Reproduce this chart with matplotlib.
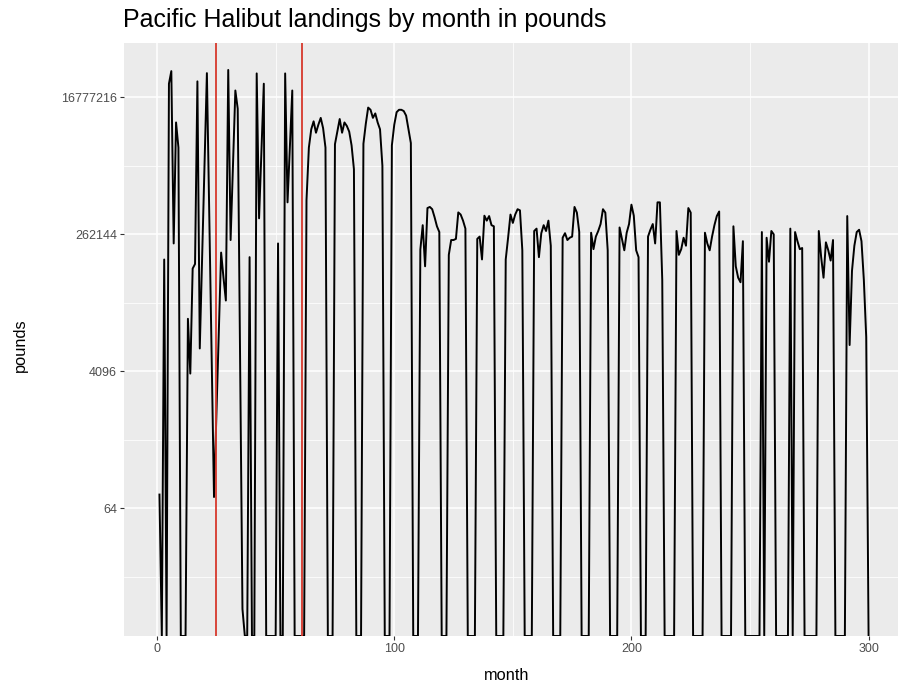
import matplotlib.pyplot as plt
import numpy as np
from matplotlib.ticker import FixedLocator, NullFormatter

title = 'Pacific Halibut landings by month in pounds'

# monthly landings, one row per 12 months (0 = no landings)
months = np.arange(1, 301)
pounds = [
    97, 0, 122000, 0, 25400000, 37200000, 198700, 7830000, 3650000, 0, 0, 0,
    20170, 3822, 92680, 106500, 27260000, 8192, 131072, 2097152, 35000000, 456400, 6208, 90,
    1098, 12417, 150600, 70240, 35120, 38550000, 220400, 2097152, 20660000, 11860000, 5793, 3,
    0, 0, 131072, 0, 0, 34700000, 425900, 3180000, 25400000, 0, 0, 0,
    0, 0, 198700, 0, 0, 34700000, 692000, 3650000, 20660000, 0, 0, 0,
    0, 0, 741000, 3650000, 6360000, 8100000, 5730000, 7300000, 8990000, 6580000, 3650000, 0,
    0, 0, 4050000, 5930000, 8690000, 5730000, 7830000, 7050000, 5930000, 3910000, 1890000, 0,
    0, 0, 4100000, 7500000, 12300000, 11500000, 9000000, 10300000, 7830000, 6360000, 2100000, 0,
    0, 0, 3910000, 7300000, 10700000, 11500000, 11500000, 11070000, 9640000, 6360000, 4190000, 0,
    0, 0, 164800, 346000, 99300, 582000, 602000, 562000, 440800, 334400, 281000, 0,
    0, 0, 140500, 220400, 220400, 228200, 509900, 477800, 397200, 311700, 0, 0,
    0, 0, 228200, 244600, 122300, 461600, 397200, 456400, 346000, 334400, 0, 0,
    0, 0, 122300, 236300, 477800, 370700, 477800, 562000, 542800, 161400, 0, 0,
    0, 0, 290000, 311700, 131072, 271400, 346000, 290000, 397200, 185400, 0, 0,
    0, 0, 236300, 271400, 220400, 236300, 244600, 602000, 506400, 281000, 0, 0,
    0, 0, 275100, 167100, 244600, 290000, 358200, 562000, 506400, 161400, 0, 0,
    0, 0, 322700, 228200, 161400, 275100, 358200, 645400, 461600, 161400, 131072, 0,
    0, 0, 244600, 301100, 358200, 198700, 692000, 692000, 65536, 0, 0, 0,
    0, 0, 290000, 140500, 167100, 236300, 185400, 582000, 506400, 0, 0, 0,
    0, 0, 275100, 198700, 161400, 244600, 346000, 456400, 524300, 0, 0, 0,
    0, 0, 334400, 99300, 70240, 61150, 212900, 0, 0, 0, 0, 0,
    0, 0, 281000, 0, 236300, 114100, 290000, 262144, 0, 0, 0, 0,
    0, 0, 311700, 0, 281000, 212900, 167100, 172900, 0, 0, 0, 0,
    0, 0, 290000, 131072, 70240, 205600, 161400, 118100, 220400, 0, 0, 0,
    0, 0, 456400, 9090, 86500, 185400, 281000, 301100, 212900, 65536, 11585, 0,
]
breaks = [25, 61]

x_ticks = [0, 100, 200, 300]
x_minor = [50, 150, 250]
y_ticks = [64, 4096, 262144, 16777216]
y_minor = [8, 512, 32768, 2097152]

pounds = np.array(pounds, dtype=float)

# ggplot style limits on log2 scale (5% padding), zeros drawn on the lower edge
pos = pounds[pounds > 0]
lo, hi = np.log2(pos.min()), np.log2(pos.max())
pad = 0.05 * (hi - lo)
ymin, ymax = 2 ** (lo - pad), 2 ** (hi + pad)
y = np.where(pounds > 0, pounds, ymin)

plt.rcParams['font.family'] = ['Liberation Sans', 'DejaVu Sans']

fig = plt.figure(figsize=(8.98, 6.87), dpi=100)
W, H = 898, 687
ax = fig.add_axes([124 / W, 51 / H, 1 - 124 / W, 593 / H])
ax.set_facecolor('#ebebeb')
for s in ax.spines.values():
    s.set_visible(False)

ax.set_yscale('log', base=2)
ax.set_xlim(1 - 0.05 * 299, 312.4)
ax.set_ylim(ymin, ymax)

ax.set_xticks(x_ticks)
ax.set_xticklabels([str(v) for v in x_ticks])
ax.xaxis.set_minor_locator(FixedLocator(x_minor))
ax.set_yticks(y_ticks)
ax.set_yticklabels([str(v) for v in y_ticks])
ax.yaxis.set_minor_locator(FixedLocator(y_minor))
ax.yaxis.set_minor_formatter(NullFormatter())
ax.xaxis.set_minor_formatter(NullFormatter())

ax.grid(True, which='major', color='white', lw=1.1)
ax.grid(True, which='minor', color='white', lw=0.55)
ax.set_axisbelow(True)
ax.tick_params(which='major', length=3, width=0.8, color='#333333',
               labelcolor='#4d4d4d', labelsize=9, pad=2)
ax.tick_params(which='minor', length=0)

ax.plot(months, y, color='black', lw=1.4)
for b in breaks:
    ax.axvline(b, color='#d7382c', lw=1.3)

fig.text(123 / W, 1 - 27 / H, title, fontsize=18, ha='left', va='baseline')
fig.text(507 / W, 1 - 675 / H, 'month', fontsize=11.8, ha='center', va='center')
fig.text(20 / W, 1 - 345 / H, 'pounds', fontsize=11.8, rotation=90,
         ha='center', va='center')

fig.savefig('out.png', dpi=100)
